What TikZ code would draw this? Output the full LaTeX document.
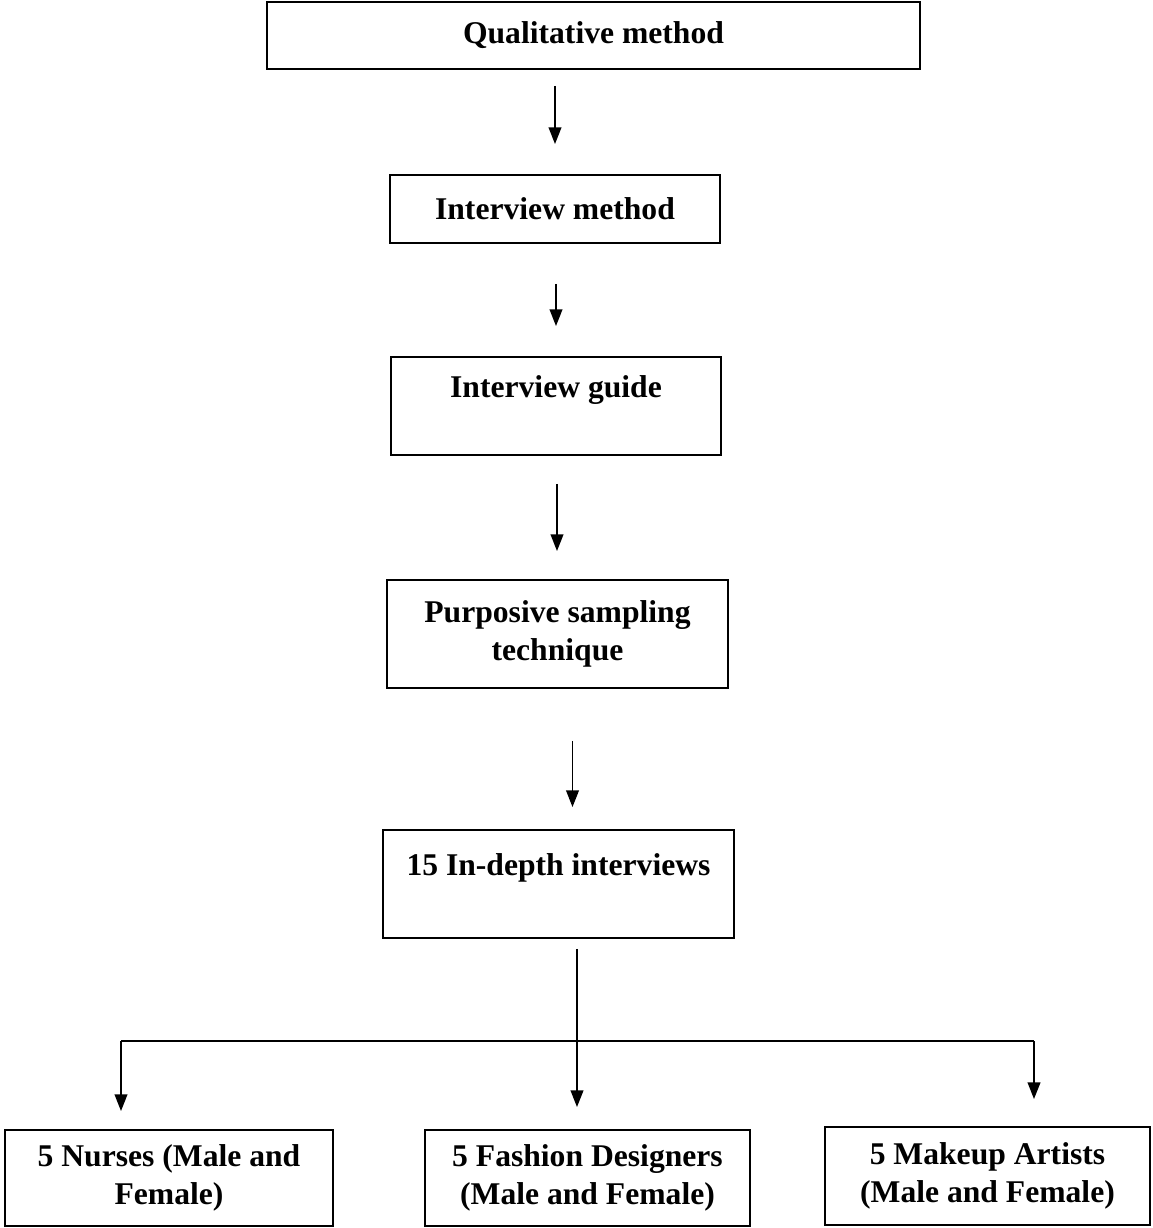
\documentclass[tikz,border=0pt]{standalone}
\usepackage{fontspec}
\setmainfont{Liberation Serif}
\usetikzlibrary{arrows.meta}

\newcommand{\px}{0.02cm}

\tikzset{
	caja/.style={draw, line width=1.1pt, align=center, inner sep=0pt,
		font=\fontsize{18}{22}\selectfont\bfseries},
	tam/.style 2 args={minimum width=#1*\px, minimum height=#2*\px},
	flecha/.style={line width=1.1pt, -{Triangle[length=9.5pt,width=7.2pt]}},
	linea/.style={line width=1.1pt}
}

\begin{document}
\begin{tikzpicture}[x=\px, y=-\px]
		\useasboundingbox (0,0) rectangle (1153,1228);
		
		% cajas
		\node[caja, tam={653}{67}] (qual) at (593.5,35.5) {Qualitative method};
		\node[caja, tam={330}{68}] (intm) at (555,209) {Interview method};
		\node[caja, tam={330}{98}] (guia) at (556,406) {Interview guide\\ \mbox{}};
		\node[caja, tam={341}{108}] (purp) at (557.5,634) {Purposive sampling\\ technique};
		\node[caja, tam={351}{108}] (prof) at (558.5,884) {15 In-depth interviews\\ \mbox{}};
		
		% las tres de abajo
		\node[caja, tam={328}{96}] (enf) at (169,1178) {5 Nurses (Male and\\ Female)};
		\node[caja, tam={325}{96}] (moda) at (587.5,1178) {5 Fashion Designers\\ (Male and Female)};
		\node[caja, tam={325}{98}] (maq) at (987.5,1176) {5 Makeup Artists\\ (Male and Female)};
		
		% flechas
		\draw[flecha, shorten <=16*\px, shorten >=30*\px] (qual.south -| intm.north) -- (intm.north);
		\draw[flecha, shorten <=40*\px, shorten >=30*\px] (intm.south -| guia.north) -- (guia.north);
		\draw[flecha, shorten <=28*\px, shorten >=28*\px] ([xshift=1*\px]guia.south) -- ([xshift=1*\px]guia.south |- purp.north);
		\draw[flecha, shorten <=52*\px, shorten >=22*\px] ([xshift=15*\px]purp.south) -- ([xshift=15*\px]purp.south |- prof.north);
		
		% ramas
		\coordinate (rama) at (577,1041);
		\coordinate (izq) at (121,1041);
		\coordinate (der) at (1034,1041);
		\draw[linea, shorten <=10*\px] (prof.south -| rama) -- (rama);
		\draw[linea] (izq) -- (der);
		\draw[flecha, shorten >=18*\px] (izq) -- (izq |- enf.north);
		\draw[flecha, shorten >=22*\px] (rama) -- (rama |- moda.north);
		\draw[flecha, shorten >=27*\px] (der) -- (der |- maq.north);
\end{tikzpicture}
\end{document}
